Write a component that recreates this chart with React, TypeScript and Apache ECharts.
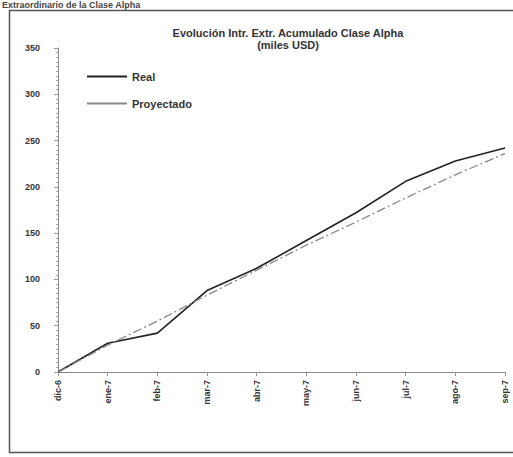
import React, { useEffect, useRef } from "react";
import * as echarts from "echarts";

const categories = ["dic-6", "ene-7", "feb-7", "mar-7", "abr-7", "may-7", "jun-7", "jul-7", "ago-7", "sep-7"];
const realValues = [0, 31, 42, 88, 112, 142, 172, 206, 228, 242];
const projectedValues = [0, 29, 55, 83, 110, 137, 162, 188, 213, 236];
const yTicks = [0, 50, 100, 150, 200, 250, 300, 350];

const FONT = "'Liberation Sans', Arial, sans-serif";

export default function App() {
  const ref = useRef<HTMLDivElement>(null);
  useEffect(() => {
    document.body.style.margin = "0";
    const chart = echarts.init(ref.current!, undefined, { renderer: "svg" });
    chart.setOption({
      animation: false,
      backgroundColor: "#ffffff",
      title: {
        text: "Evolución Intr. Extr. Acumulado Clase Alpha\n(miles USD)",
        left: 283,
        top: 22,
        textAlign: "center",
        textStyle: {
          fontFamily: FONT,
          fontSize: 11,
          fontWeight: "bold",
          color: "#333",
          lineHeight: 12,
        },
      },
      legend: {
        orient: "vertical",
        left: 82,
        top: 66,
        itemGap: 16,
        itemWidth: 40,
        itemHeight: 10,
        icon: "path://M0,4 L40,4 L40,6 L0,6 Z",
        textStyle: { fontFamily: FONT, fontSize: 11, fontWeight: "bold", color: "#333" },
        data: [
          { name: "Real", itemStyle: { color: "#222" } },
          { name: "Proyectado", itemStyle: { color: "#888" } },
        ],
      },
      graphic: [
        {
          type: "rect",
          shape: { x: 9.5, y: 10.5, width: 510, height: 442 },
          style: { fill: "none", stroke: "#555", lineWidth: 1.5 },
          silent: true,
        },
        {
          type: "text",
          left: 2,
          top: 0,
          style: {
            text: "Extraordinario de la Clase Alpha",
            fontFamily: FONT,
            fontSize: 9,
            fontWeight: "bold",
            fill: "#444",
          },
        },
      ],
      grid: { left: 58, right: 8, top: 48, bottom: 85, containLabel: false },
      xAxis: {
        type: "category",
        data: categories,
        boundaryGap: false,
        axisLine: { lineStyle: { color: "#888", width: 1 } },
        axisTick: { show: true, alignWithLabel: true, length: 4, lineStyle: { color: "#999" } },
        axisLabel: {
          rotate: 90,
          fontFamily: FONT,
          fontSize: 9,
          fontWeight: "bold",
          color: "#333",
          margin: 8,
        },
        splitLine: { show: false },
      },
      yAxis: {
        type: "value",
        min: 0,
        max: 350,
        interval: 50,
        axisLine: { show: true, lineStyle: { color: "#888", width: 1 } },
        axisTick: { show: true, inside: false, length: 4, lineStyle: { color: "#999" } },
        minorTick: { show: true, splitNumber: 10, length: 2, lineStyle: { color: "#aaa" } },
        axisLabel: {
          fontFamily: FONT,
          fontSize: 9,
          fontWeight: "bold",
          color: "#333",
          margin: 18,
          formatter: (v: number) => (yTicks.includes(v) ? String(v) : ""),
        },
        splitLine: { show: false },
      },
      series: [
        {
          name: "Real",
          type: "line",
          data: realValues,
          symbol: "none",
          lineStyle: { color: "#222", width: 1.6 },
          itemStyle: { color: "#222" },
        },
        {
          name: "Proyectado",
          type: "line",
          data: projectedValues,
          symbol: "none",
          lineStyle: { color: "#888", width: 1.3, type: [9, 3, 2, 3] },
          itemStyle: { color: "#888" },
        },
      ],
    });
    return () => chart.dispose();
  }, []);
  return <div ref={ref} style={{ width: 513, height: 457 }} />;
}
